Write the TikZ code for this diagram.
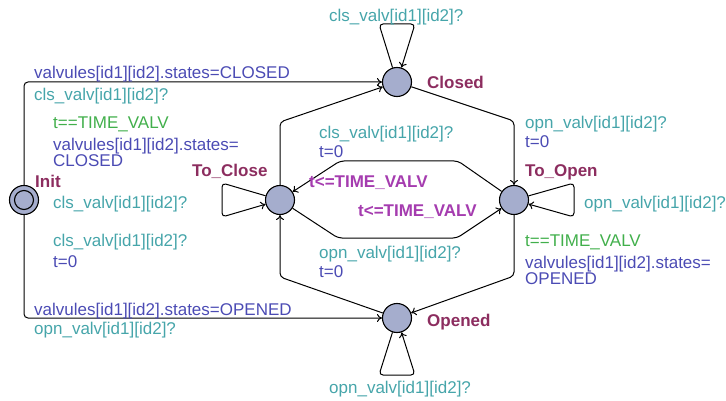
\documentclass[tikz,border=0pt]{standalone}
\usepackage{fontspec}
\setmainfont{Liberation Sans}
\usetikzlibrary{arrows.meta}
\definecolor{synccol}{RGB}{70,165,170}
\definecolor{assigncol}{RGB}{75,75,180}
\definecolor{guardcol}{RGB}{65,175,75}
\definecolor{namecol}{RGB}{140,45,95}
\definecolor{invcol}{RGB}{165,60,175}
\definecolor{locfill}{RGB}{165,173,205}
\begin{document}
\begin{tikzpicture}[x=1pt,y=-1pt,
  every node/.style={font=\fontsize{17}{17}\selectfont},
  loc/.style={circle,draw=black,line width=1.1pt,fill=locfill,minimum size=29pt,inner sep=0pt},
  initloc/.style={loc,double=locfill,double distance=3pt},
  edge/.style={draw=black,line width=1pt,rounded corners=4pt,-{To[length=5pt,width=8pt]}},
  lbl/.style={anchor=base west,inner sep=0pt},
  sync/.style={lbl,text=synccol},
  assign/.style={lbl,text=assigncol},
  guard/.style={lbl,text=guardcol},
  lname/.style={lbl,text=namecol,font=\fontsize{17}{17}\selectfont\bfseries},
  inv/.style={lbl,text=invcol,font=\fontsize{17}{17}\selectfont\bfseries}]
\useasboundingbox (0,0) rectangle (726,401);

% locations
\node[loc] (init) at (24,200) {};
\node[circle,draw=black,line width=1.1pt,minimum size=19pt,inner sep=0pt] (initin) at (24,200) {};
\node[loc] (closed) at (397,82) {};
\node[loc] (toclose) at (280,200) {};
\node[loc] (toopen) at (514,200) {};
\node[loc] (opened) at (397,318) {};

% edges
\draw[edge] (init) |- (closed);
\draw[edge] (init) |- (opened);
\draw[edge] (closed) -- (379,24) -- (415,24) -- (closed);
\draw[edge] (opened) -- (379,375) -- (415,375) -- (opened);
\draw[edge] (toclose) -- (222,183) -- (222,217) -- (toclose);
\draw[edge] (toopen) -- (574,183) -- (574,217) -- (toopen);
\draw[edge] (closed) -- (514,121) -- (toopen);
\draw[edge] (toopen) -- (514,276) -- (opened);
\draw[edge] (toclose) -- (280,122) -- (closed);
\draw[edge] (opened) -- (280,277) -- (toclose);
\draw[edge] (toopen) -- (458,161) -- (340,161) -- (toclose);
\draw[edge] (toclose) -- (338,238) -- (457,238) -- (toopen);

% location names
\node[lname] (nInit) at (35,188) {Init};
\node[lname] (nClosed) at (427,89) {Closed};
\node[lname] (nToClose) at (192,177) {To\_Close};
\node[lname] (nToOpen) at (525,177) {To\_Open};
\node[lname] (nOpened) at (427,326) {Opened};

% invariants
\node[inv] (i1) at (309,187) {t<=TIME\_VALV};
\node[inv] (i2) at (358,216) {t<=TIME\_VALV};

% left labels
\node[assign] (l1) at (34,79) {valvules[id1][id2].states=CLOSED};
\node[sync] (l2) at (34,101) {cls\_valv[id1][id2]?};
\node[guard] (l3) at (53,129) {t==TIME\_VALV};
\node[assign] (l4) at (53,151) {valvules[id1][id2].states=};
\node[assign] (l5) at (53,167) {CLOSED};
\node[sync] (l6) at (53,208) {cls\_valv[id1][id2]?};
\node[sync] (l7) at (53,246) {cls\_valv[id1][id2]?};
\node[assign] (l8) at (53,267) {t=0};
\node[assign] (l9) at (34,315) {valvules[id1][id2].states=OPENED};
\node[sync] (l10) at (34,334) {opn\_valv[id1][id2]?};

% top / bottom
\node[sync] (t1) at (329,22) {cls\_valv[id1][id2]?};
\node[sync] (b1) at (329,393) {opn\_valv[id1][id2]?};

% middle
\node[sync] (m1) at (319,139) {cls\_valv[id1][id2]?};
\node[assign] (m2) at (319,158) {t=0};
\node[sync] (m3) at (319,258) {opn\_valv[id1][id2]?};
\node[assign] (m4) at (319,277) {t=0};

% right
\node[sync] (r1) at (525,129) {opn\_valv[id1][id2]?};
\node[assign] (r2) at (525,148) {t=0};
\node[sync] (r3) at (584,208) {opn\_valv[id1][id2]?};
\node[guard] (r4) at (525,247) {t==TIME\_VALV};
\node[assign] (r5) at (525,268) {valvules[id1][id2].states=};
\node[assign] (r6) at (525,284) {OPENED};
\end{tikzpicture}
\end{document}
